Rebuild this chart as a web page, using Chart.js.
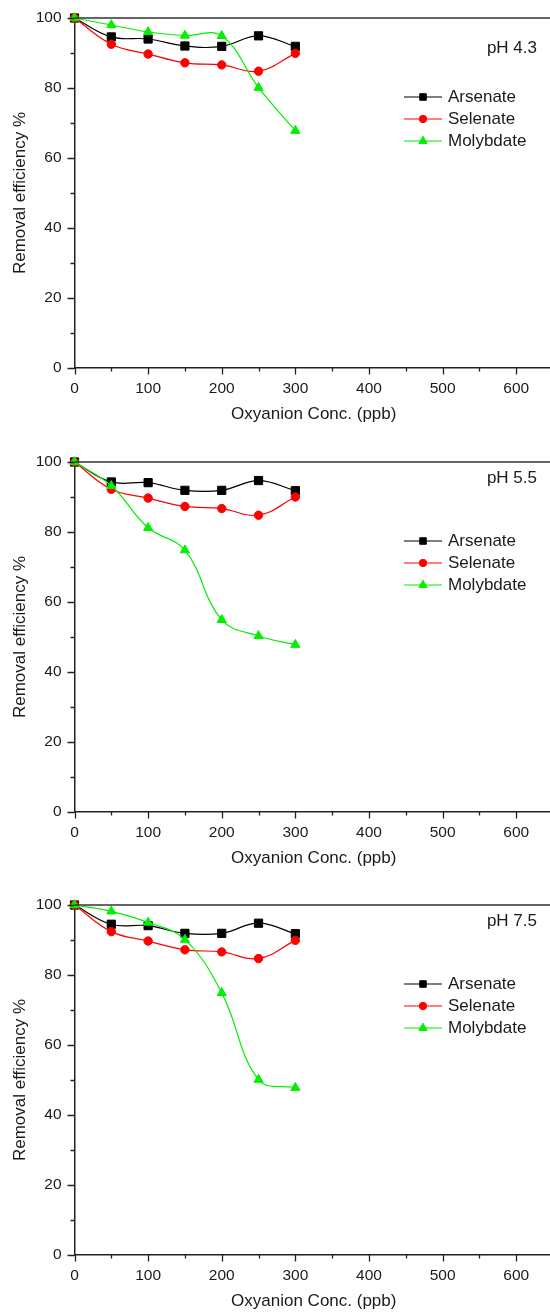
<!DOCTYPE html>
<html>
<head>
<meta charset="utf-8">
<script src="https://cdn.jsdelivr.net/npm/chart.js@4.4.0/dist/chart.umd.min.js"></script>
<style>
  html, body { margin: 0; padding: 0; background: #fff; overflow: hidden; width: 550px; height: 1312px; }
  .panel { position: absolute; left: 0; width: 553px; height: 444px; }
</style>
</head>
<body>
<div class="panel" style="top:0px"><canvas id="c0" width="553" height="444"></canvas></div>
<div class="panel" style="top:444px"><canvas id="c1" width="553" height="444"></canvas></div>
<div class="panel" style="top:887px"><canvas id="c2" width="553" height="444"></canvas></div>
<script>
'use strict';

// ── Data ─────────────────────────────────────────────────────────────────────

const concPpb = [0, 50, 100, 150, 200, 250, 300];
const seriesNames = ['Arsenate', 'Selenate', 'Molybdate'];
const panelLabels = ['pH 4.3', 'pH 5.5', 'pH 7.5'];
const xTickLabels = [0, 100, 200, 300, 400, 500, 600];
const yTickLabels = [0, 20, 40, 60, 80, 100];

// pH 4.3
const arsenate43  = [100, 94.6, 94.0, 92.0, 91.9, 94.9, 91.9];
const selenate43  = [100, 92.5, 89.7, 87.2, 86.6, 84.8, 89.9];
const molybdate43 = [100, 98.0, 96.0, 95.0, 94.9, 80.1, 67.8];
// pH 5.5
const arsenate55  = [100, 94.3, 94.1, 91.9, 91.9, 94.7, 91.8];
const selenate55  = [100, 92.2, 89.7, 87.3, 86.7, 84.8, 90.0];
const molybdate55 = [100, 93.2, 81.2, 74.8, 54.9, 50.3, 47.8];
// pH 7.5
const arsenate75  = [100, 94.5, 94.1, 91.9, 91.9, 94.8, 91.8];
const selenate75  = [100, 92.4, 89.7, 87.2, 86.6, 84.7, 89.9];
const molybdate75 = [100, 98.2, 95.0, 90.1, 74.9, 50.1, 47.8];

const panelSeries = [
  [arsenate43, selenate43, molybdate43],
  [arsenate55, selenate55, molybdate55],
  [arsenate75, selenate75, molybdate75],
];

// ── Styles ───────────────────────────────────────────────────────────────────

const FONT = '"Liberation Sans", Arial, Helvetica, sans-serif';
const TXT = '#1a1a1a';
const styles = [
  { color: '#000000', point: 'rect',     radius: 5.8, legendR: 4.6 },
  { color: '#ff0000', point: 'circle',   radius: 4.2, legendR: 3.7 },
  { color: '#00f000', point: 'triangle', radius: 5.3, legendR: 4.8 },
];
const labelBaseline = [53, 39, 39];

function drawMarker(ctx, style, x, y, r, color) {
  ctx.save();
  ctx.fillStyle = color;
  ctx.strokeStyle = color;
  ctx.lineWidth = 1;
  ctx.beginPath();
  if (style === 'rect') {
    const s = r * Math.SQRT1_2;
    ctx.rect(x - s, y - s, 2 * s, 2 * s);
  } else if (style === 'circle') {
    ctx.arc(x, y, r, 0, Math.PI * 2);
  } else {
    ctx.moveTo(x, y - r);
    ctx.lineTo(x + r * 0.866, y + r / 2);
    ctx.lineTo(x - r * 0.866, y + r / 2);
    ctx.closePath();
  }
  ctx.fill();
  ctx.stroke();
  ctx.restore();
}

// tick marks, top frame line, legend and pH label
const decorPlugin = {
  id: 'decor',
  afterDraw(chart, args, opts) {
    const { ctx, chartArea: a } = chart;
    const xs = chart.scales.x, ys = chart.scales.y;
    ctx.save();
    ctx.strokeStyle = '#222';
    ctx.lineWidth = 1.3;
    ctx.beginPath();
    for (const t of xs.ticks) {
      const px = Math.round(xs.getPixelForValue(t.value)) + 0.5;
      const len = xTickLabels.includes(t.value) ? 6.5 : 3.5;
      ctx.moveTo(px, a.bottom);
      ctx.lineTo(px, a.bottom + len);
    }
    for (const t of ys.ticks) {
      const py = Math.round(ys.getPixelForValue(t.value)) + 0.5;
      const len = yTickLabels.includes(t.value) ? 7 : 4;
      ctx.moveTo(a.left, py);
      ctx.lineTo(a.left - len, py);
    }
    ctx.stroke();

    // top frame
    ctx.strokeStyle = '#333';
    ctx.lineWidth = 1.5;
    ctx.beginPath();
    ctx.moveTo(a.left, a.top);
    ctx.lineTo(chart.width, a.top);
    ctx.stroke();

    // legend
    ctx.font = '17px ' + FONT;
    ctx.textBaseline = 'middle';
    ctx.textAlign = 'left';
    chart.data.datasets.forEach((ds, i) => {
      const st = styles[i];
      const y = 97 + i * 22;
      ctx.strokeStyle = st.color;
      ctx.lineWidth = 1.2;
      ctx.beginPath();
      ctx.moveTo(404, y);
      ctx.lineTo(442, y);
      ctx.stroke();
      drawMarker(ctx, st.point, 423, y, st.legendR, st.color);
      ctx.fillStyle = TXT;
      ctx.fillText(ds.label, 448, y + 0.5);
    });

    // pH label
    ctx.textAlign = 'right';
    ctx.textBaseline = 'alphabetic';
    ctx.font = '17px ' + FONT;
    ctx.fillStyle = TXT;
    ctx.fillText(opts.label, 537, opts.baseline);
    ctx.restore();
  },
};

function fixX(s) {
  s.height = 76;
  s.paddingLeft = 0;
  s.paddingRight = 0;
}

function fixY(s) {
  s.width = 74.5;
  s.paddingTop = 0;
  s.paddingBottom = 0;
}

function buildChart(idx) {
  const datasets = panelSeries[idx].map((vals, i) => ({
    label: seriesNames[i],
    data: concPpb.map((x, k) => ({ x, y: vals[k] })),
    borderColor: styles[i].color,
    backgroundColor: styles[i].color,
    borderWidth: 1.2,
    tension: 0.4,
    pointStyle: styles[i].point,
    pointRadius: styles[i].radius,
    pointBorderWidth: 1,
    pointBackgroundColor: styles[i].color,
    pointBorderColor: styles[i].color,
    clip: false,
    order: 3 - i,
  }));

  new Chart(document.getElementById('c' + idx), {
    type: 'line',
    data: { datasets },
    plugins: [decorPlugin],
    options: {
      responsive: false,
      animation: false,
      devicePixelRatio: 1,
      layout: { autoPadding: false, padding: { top: 18, left: 0, right: 0, bottom: 0 } },
      plugins: {
        legend: { display: false },
        tooltip: { enabled: false },
        decor: { label: panelLabels[idx], baseline: labelBaseline[idx] },
      },
      scales: {
        x: {
          type: 'linear',
          min: 0,
          max: 650,
          afterFit: fixX,
          border: { display: true, color: '#222', width: 1.5 },
          grid: { display: true, drawOnChartArea: false, drawTicks: false },
          ticks: {
            stepSize: 50,
            autoSkip: false,
            maxRotation: 0,
            padding: 11,
            color: TXT,
            font: { family: FONT, size: 15.5 },
            callback: v => xTickLabels.includes(v) ? String(v) : '',
          },
          title: {
            display: true,
            text: 'Oxyanion Conc. (ppb)',
            color: TXT,
            font: { family: FONT, size: 17 },
            padding: { top: 0, bottom: 19.5 },
          },
        },
        y: {
          min: 0,
          max: 100,
          afterFit: fixY,
          border: { display: true, color: '#222', width: 1.5 },
          grid: { display: true, drawOnChartArea: false, drawTicks: false },
          ticks: {
            stepSize: 10,
            autoSkip: false,
            padding: 13,
            color: TXT,
            font: { family: FONT, size: 15.5 },
            callback: v => yTickLabels.includes(v) ? String(v) : '',
          },
          title: {
            display: true,
            text: 'Removal efficiency %',
            color: TXT,
            font: { family: FONT, size: 17 },
            padding: { top: 10.5, bottom: 0 },
          },
        },
      },
    },
  });
}

// ── Boot ─────────────────────────────────────────────────────────────────────
[0, 1, 2].forEach(buildChart);
</script>
</body>
</html>
